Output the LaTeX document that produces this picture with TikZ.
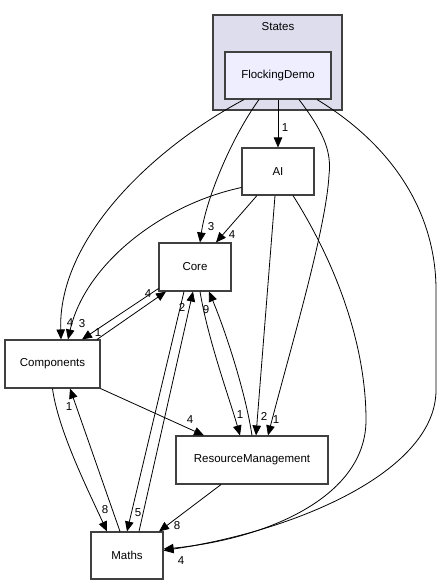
\documentclass[tikz,border=0pt]{standalone}
\usepackage{fontspec}
\setmainfont{Liberation Sans}
\usetikzlibrary{arrows.meta}
\definecolor{clusterfill}{RGB}{221,221,238}
\definecolor{dirfill}{RGB}{238,238,255}
\definecolor{boxline}{RGB}{64,64,64}
\tikzset{
	dirbox/.style={draw=boxline, line width=1.1pt, fill=white, inner sep=0pt, font=\fontsize{11.5}{13}\selectfont},
	dep/.style={line width=0.8pt, -{Triangle[length=10pt,width=8.5pt]}},
	lbl/.style={inner sep=0pt, font=\fontsize{11.5}{13}\selectfont}
}

\begin{document}
\begin{tikzpicture}[x=1pt, y=-1pt]
			%%%%% START %%%%%
			\useasboundingbox (0,0) rectangle (445,585);
			
			\draw[draw=boxline, line width=1.1pt, fill=clusterfill] (213,15) rectangle (342,110);
			\node[lbl] (states) at (278,27) {States};
			
			\node[dirbox, fill=dirfill, minimum width=106pt, minimum height=47pt] (fd) at (278,75.5) {FlockingDemo};
			\node[dirbox, minimum width=72pt, minimum height=47pt] (ai) at (278,171.5) {AI};
			\node[dirbox, minimum width=72pt, minimum height=48pt] (core) at (195,267) {Core};
			\node[dirbox, minimum width=95pt, minimum height=48pt] (comp) at (52.5,364) {Components};
			\node[dirbox, minimum width=152pt, minimum height=48pt] (rm) at (252,460) {ResourceManagement};
			\node[dirbox, minimum width=72pt, minimum height=47pt] (maths) at (127,555.5) {Maths};
			
			% FlockingDemo
			\draw[dep] (fd) -- (ai);
			\node[lbl] (l1) at (285,128) {1};
			\draw[dep] ([xshift=-34]fd.south) .. controls (150,150) and (58,240) .. ([xshift=8.5]comp.north);
			\node[lbl] (l2) at (70,323) {4};
			\draw[dep] ([xshift=-19]fd.south) .. controls (230,140) and (206,200) .. ([xshift=5]core.north);
			\node[lbl] (l3) at (211,227) {3};
			\draw[dep] ([xshift=21]fd.south) .. controls (322,130) and (332,150) .. (329,175) .. controls (326,230) and (290,350) .. ([xshift=16]rm.north);
			\node[lbl] (l4) at (276,420) {1};
			\draw[dep] ([xshift=39]fd.south) .. controls (400,150) and (436,220) .. (436,290) -- (436,390) .. controls (436,470) and (300,530) .. ([yshift=5]maths.east);
			\node[lbl] (l5) at (181,561) {4};
			
			% AI
			\draw[dep] ([xshift=-21]ai.south) -- ([xshift=21]core.north);
			\node[lbl] (l6) at (232,235) {4};
			\draw[dep] ([yshift=-16]ai.west) .. controls (160,205) and (85,265) .. ([xshift=15.5]comp.north);
			\node[lbl] (l7) at (82,324) {3};
			\draw[dep] ([xshift=-3]ai.south) -- ([xshift=4]rm.north);
			\node[lbl] (l8) at (264,416) {2};
			\draw[dep] ([xshift=15]ai.south) .. controls (340,270) and (366,350) .. (366,420) .. controls (366,500) and (260,540) .. ([yshift=6.5]maths.east);
			
			% Core / Components
			\draw[dep] ([xshift=44.5]comp.north) -- ([xshift=-29]core.south);
			\node[lbl] (l9) at (148,294) {4};
			\draw[dep] ([yshift=3]core.south west) -- ([xshift=29.5]comp.north);
			\node[lbl] (l10) at (98,333) {1};
			
			% Core / Maths
			\draw[dep] ([xshift=-11]core.south) -- (maths.north);
			\node[lbl] (l11) at (138,513) {5};
			\draw[dep] ([xshift=12]maths.north) -- ([xshift=-2]core.south);
			\node[lbl] (l12) at (182,307) {2};
			
			% Core / ResourceManagement
			\draw[dep] ([xshift=5]core.south) .. controls (208,340) and (230,400) .. ([xshift=-12]rm.north);
			\node[lbl] (l13) at (240,415) {1};
			\draw[dep] (rm.north) .. controls (245,390) and (225,330) .. ([xshift=14]core.south);
			\node[lbl] (l14) at (206,310) {9};
			
			% Components
			\draw[dep] (comp.south east) -- ([xshift=-48]rm.north);
			\node[lbl] (l15) at (190,420) {4};
			\draw[dep] (comp.south) .. controls (58,430) and (88,490) .. ([xshift=-20]maths.north);
			\node[lbl] (l16) at (105,510) {8};
			\draw[dep] ([xshift=-7]maths.north) -- ([xshift=17.5]comp.south);
			\node[lbl] (l17) at (69,407) {1};
			
			% ResourceManagement
			\draw[dep] ([xshift=-31]rm.south) -- ([xshift=32]maths.north);
			\node[lbl] (l18) at (177,526) {8};
			
			%%%%% END %%%%%
\end{tikzpicture}
\end{document}
